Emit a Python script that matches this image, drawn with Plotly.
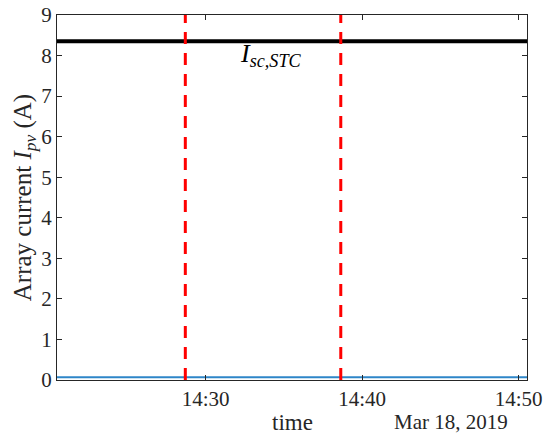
import plotly.graph_objects as go

# data
times = ["2019-03-18 14:20:30", "2019-03-18 14:25:00", "2019-03-18 14:30:00",
         "2019-03-18 14:35:00", "2019-03-18 14:40:00", "2019-03-18 14:45:00",
         "2019-03-18 14:50:32"]
ipv = [0.07, 0.07, 0.07, 0.07, 0.07, 0.07, 0.07]
isc_stc = 8.35
event_times = ["2019-03-18 14:28:42", "2019-03-18 14:38:38"]
x_range = ["2019-03-18 14:20:30", "2019-03-18 14:50:32"]
xtick_vals = ["2019-03-18 14:30:00", "2019-03-18 14:40:00", "2019-03-18 14:50:00"]
xtick_text = ["14:30", "14:40", "14:50"]
ytick_vals = list(range(0, 10))

FONT = "Liberation Serif"

fig = go.Figure()
fig.add_trace(go.Scatter(x=times, y=ipv, mode="lines",
                         line=dict(color="#2E86C8", width=2), showlegend=False))
fig.add_trace(go.Scatter(x=x_range, y=[isc_stc, isc_stc], mode="lines",
                         line=dict(color="black", width=4), showlegend=False))
for t in event_times:
    fig.add_trace(go.Scatter(x=[t, t], y=[0, 9], mode="lines",
                             line=dict(color="#FF0000", width=3, dash="12px,9px"),
                             showlegend=False))

fig.add_annotation(x="2019-03-18 14:34:10", y=isc_stc - 0.33, xref="x", yref="y",
                   text="<i>I</i><sub><i>sc,STC</i></sub>", showarrow=False,
                   font=dict(family=FONT, size=26, color="black"))
fig.add_annotation(x=(292 - 57) / 470, y=0, xref="paper", yref="paper", yshift=-42,
                   text="time", showarrow=False, yanchor="middle",
                   font=dict(family=FONT, size=23, color="#262626"))
fig.add_annotation(x=(510 - 57) / 470, y=0, xref="paper", yref="paper", yshift=-42,
                   xanchor="right", yanchor="middle",
                   text="Mar 18, 2019", showarrow=False,
                   font=dict(family=FONT, size=21, color="#262626"))

fig.update_layout(
    width=552, height=437,
    margin=dict(l=57, r=25, t=15, b=57, autoexpand=False),
    paper_bgcolor="white", plot_bgcolor="white",
    font=dict(family=FONT, size=21, color="#262626"),
    xaxis=dict(range=x_range, tickvals=xtick_vals, ticktext=xtick_text,
               ticks="inside", ticklen=5, tickcolor="#262626", tickwidth=1,
               showline=True, linecolor="#262626", linewidth=1.3, mirror="allticks",
               showgrid=False, zeroline=False, automargin=False),
    yaxis=dict(range=[0, 9], tickvals=ytick_vals,
               ticks="inside", ticklen=5, tickcolor="#262626", tickwidth=1,
               showline=True, linecolor="#262626", linewidth=1.3, mirror="allticks",
               showgrid=False, zeroline=False, automargin=False,
               title=dict(text="Array current <i>I</i><sub><i>pv</i></sub> (A)",
                          font=dict(size=25), standoff=2)),
)

fig.write_html("out.html")
